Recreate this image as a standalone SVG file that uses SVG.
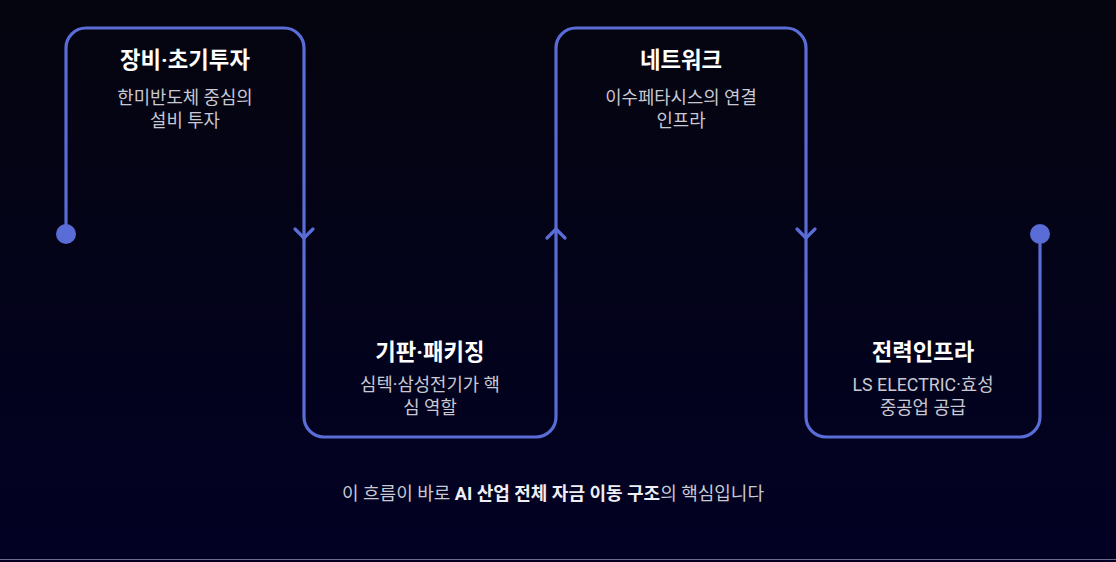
<svg xmlns="http://www.w3.org/2000/svg" width="1116" height="562" viewBox="0 0 1116 562">
<defs>
<linearGradient id="bg" x1="0" y1="0" x2="0" y2="1">
<stop offset="0" stop-color="#05050f"/>
<stop offset="1" stop-color="#020124"/>
</linearGradient>
</defs>
<style>
.flow{fill:none;stroke:#5a6dd6;stroke-width:3.2;stroke-linecap:round;stroke-linejoin:round}
.dot{fill:#5a6dd6}
.t{font-family:Roboto,"Noto Sans CJK KR",sans-serif;font-weight:700;font-size:22.3px;fill:#ffffff;text-anchor:middle}
.s{font-family:Roboto,"Noto Sans CJK KR",sans-serif;font-size:17.8px;fill:#c9c9d3;text-anchor:middle}
.f{font-family:Roboto,"Noto Sans CJK KR",sans-serif;font-size:18px;fill:#c9c9d3;text-anchor:middle}
.f .b{font-weight:700;fill:#eeeef4}
</style>
<rect width="1116" height="562" fill="url(#bg)"/>
<line x1="0" y1="559.5" x2="1116" y2="559.5" stroke="#6a6a8a" stroke-width="1"/>
<g id="connectors">
<path class="flow" d="M66 234 V48 A20 20 0 0 1 86 28 H284 A20 20 0 0 1 304 48 V417 A20 20 0 0 0 324 437 H536 A20 20 0 0 0 556 417 V48 A20 20 0 0 1 576 28 H786 A20 20 0 0 1 806 48 V417 A20 20 0 0 0 826 437 H1020 A20 20 0 0 0 1040 417 V234"/>
<path class="flow" d="M295 229 L304 238 L313 229"/>
<path class="flow" d="M547 238 L556 229 L565 238"/>
<path class="flow" d="M797 229 L806 238 L815 229"/>
<circle class="dot" cx="66" cy="234" r="10"/>
<circle class="dot" cx="1040" cy="234" r="10"/>
</g>
<g id="node1">
<text class="t" x="185" y="68">장비·초기투자</text>
<text class="s" x="185" y="104">한미반도체 중심의</text>
<text class="s" x="185" y="127">설비 투자</text>
</g>
<g id="node2">
<text class="t" x="430" y="360">기판·패키징</text>
<text class="s" x="430" y="391">심텍·삼성전기가 핵</text>
<text class="s" x="430" y="414">심 역할</text>
</g>
<g id="node3">
<text class="t" x="681" y="68">네트워크</text>
<text class="s" x="681" y="104">이수페타시스의 연결</text>
<text class="s" x="681" y="127">인프라</text>
</g>
<g id="node4">
<text class="t" x="923" y="360">전력인프라</text>
<text class="s" x="923" y="391">LS ELECTRIC·효성</text>
<text class="s" x="923" y="414">중공업 공급</text>
</g>
<g id="footer">
<text class="f" x="553" y="500">이 흐름이 바로 <tspan class="b">AI 산업 전체 자금 이동 구조</tspan>의 핵심입니다</text>
</g>
</svg>
